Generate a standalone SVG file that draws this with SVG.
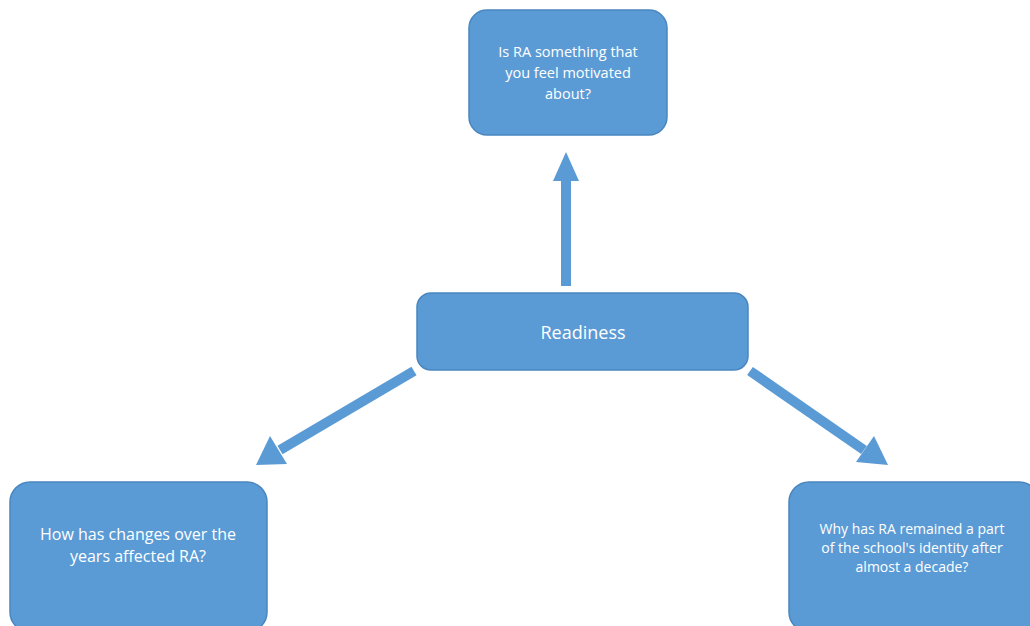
<svg xmlns="http://www.w3.org/2000/svg" width="1030" height="626" viewBox="0 0 1030 626">
<defs>
<style>
.box{fill:#5B9BD5;stroke:#4A86BF;stroke-width:1.5}
.t{fill:#FFFFFF;font-family:"Open Sans","Liberation Sans",sans-serif;text-anchor:middle}
.conn{stroke:#5B9BD5;stroke-width:10;fill:none}
.head{fill:#5B9BD5}
</style>
</defs>
<rect width="1030" height="626" fill="#FFFFFF"/>
<g id="connectors">
<line class="conn" x1="566" y1="286" x2="566" y2="178"/>
<polygon class="head" points="566,152 553,181 579,181"/>
<line class="conn" x1="414" y1="371" x2="280" y2="450"/>
<polygon class="head" points="256,465 270,436 287,464"/>
<line class="conn" x1="750" y1="371" x2="864" y2="450"/>
<polygon class="head" points="888,465 856,462 874,436"/>
</g>
<g id="node-top">
<rect class="box" x="469" y="10" width="198" height="125" rx="18"/>
<text class="t" font-size="14.5"><tspan x="568" y="57">Is RA something that</tspan><tspan x="568" y="78">you feel motivated</tspan><tspan x="568" y="99">about?</tspan></text>
</g>
<g id="node-center">
<rect class="box" x="417" y="293" width="331" height="77" rx="14"/>
<text class="t" font-size="18" x="583" y="339">Readiness</text>
</g>
<g id="node-left">
<rect class="box" x="10" y="482" width="257" height="150" rx="20"/>
<text class="t" font-size="16"><tspan x="138" y="540">How has changes over the</tspan><tspan x="138" y="562">years affected RA?</tspan></text>
</g>
<g id="node-right">
<rect class="box" x="789" y="482" width="250" height="150" rx="20"/>
<text class="t" font-size="14"><tspan x="912" y="534">Why has RA remained a part</tspan><tspan x="912" y="553">of the school's identity after</tspan><tspan x="912" y="572">almost a decade?</tspan></text>
</g>
</svg>
